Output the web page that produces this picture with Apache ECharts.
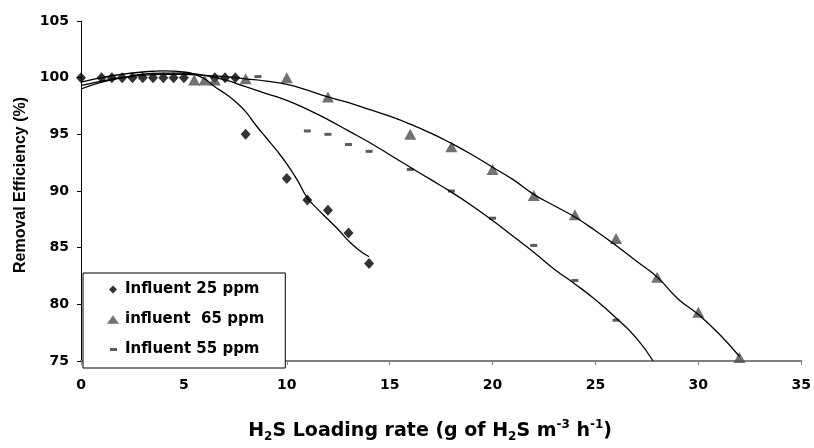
<!DOCTYPE html>
<html>
<head>
<meta charset="utf-8">
<script src="https://cdn.jsdelivr.net/npm/echarts@6/dist/echarts.min.js"></script>
<style>
  html, body { margin: 0; padding: 0; background: #fff; }
  #chart { width: 814px; height: 448px; }
</style>
</head>
<body>
<div id="chart"></div>
<script>
// measured points
var x25 = [0, 1, 1.5, 2, 2.5, 3, 3.5, 4, 4.5, 5, 6.5, 7, 7.5, 8, 10, 11, 12, 13, 14];
var y25 = [100, 100, 100, 100, 100, 100, 100, 100, 100, 100, 100, 100, 100, 95, 91.1, 89.2, 88.3, 86.3, 83.6];

var x65 = [5.5, 6, 6.5, 8, 10, 12, 16, 18, 20, 22, 24, 26, 28, 30, 32];
var y65 = [99.8, 99.8, 99.8, 99.9, 100, 98.3, 95, 93.9, 91.9, 89.6, 87.9, 85.8, 82.4, 79.3, 75.3];

var x55 = [8.6, 11, 12, 13, 14, 16, 18, 20, 22, 24, 26];
var y55 = [100.1, 95.3, 95.0, 94.1, 93.5, 91.9, 90.0, 87.6, 85.2, 82.1, 78.6];

// fitted curves
var fit25X = [0, 1, 2, 3, 4, 5, 5.5, 6, 6.5, 7, 7.5, 8, 8.5, 9, 9.5, 10, 10.5, 11, 11.5, 12, 12.5, 13, 13.5, 14];
var fit25Y = [99.6, 100.0, 100.3, 100.5, 100.6, 100.5, 100.3, 99.9, 99.2, 98.6, 97.9, 97.0, 95.8, 94.7, 93.6, 92.4, 91.0, 89.4, 88.4, 87.5, 86.6, 85.6, 84.8, 84.2];

var fit55X = [0, 1, 2, 3, 4, 5, 6, 7, 8, 9, 10, 11, 12, 13, 14, 15, 16, 17, 18, 19, 20, 21, 22, 23, 24, 25, 26, 27, 27.8];
var fit55Y = [99.0, 99.6, 100.0, 100.3, 100.4, 100.4, 100.2, 99.8, 99.2, 98.6, 98.0, 97.2, 96.3, 95.3, 94.3, 93.2, 92.1, 91.0, 89.9, 88.7, 87.4, 86.0, 84.6, 83.1, 81.8, 80.4, 78.8, 77.0, 75.0];

var fit65X = [0, 1, 2, 3, 4, 5, 6, 7, 8, 9, 10, 11, 12, 13, 14, 15, 16, 17, 18, 19, 20, 21, 22, 23, 24, 25, 26, 27, 28, 29, 30, 31, 32];
var fit65Y = [99.3, 99.7, 100.0, 100.2, 100.3, 100.3, 100.2, 100.1, 99.9, 99.7, 99.4, 98.9, 98.3, 97.8, 97.2, 96.6, 95.9, 95.1, 94.2, 93.2, 92.1, 91.0, 89.7, 88.7, 87.7, 86.5, 85.2, 83.8, 82.4, 80.5, 79.1, 77.4, 75.4];

var xTicks = [0, 5, 10, 15, 20, 25, 30, 35];
var yTicks = [75, 80, 85, 90, 95, 100, 105];

function pairs(xs, ys) {
    return xs.map(function (x, i) { return [x, ys[i]]; });
}

// the reference text is a wide bold sans, DejaVu fits its widths best
var wide = '"DejaVu Sans", sans-serif';
var font = 'Arial, "Liberation Sans", sans-serif';

var myChart = echarts.init(document.getElementById('chart'));
var option = {
    animation: false,
    backgroundColor: '#fff',
    grid: { left: 81, right: 11, top: 21, bottom: 80 },
    legend: {
        orient: 'vertical',
        left: 83,
        top: 273,
        padding: [9, 21, 11, 23],
        itemGap: 15,
        itemWidth: 14,
        itemHeight: 10,
        borderColor: '#000',
        borderWidth: 1,
        backgroundColor: '#fff',
        textStyle: { fontFamily: wide, fontWeight: 'bold', fontSize: 15, color: '#000' },
        data: [
            { name: 'Influent 25 ppm', icon: 'path://M0,0M14,10M7,1L11,5L7,9L3,5Z' },
            { name: 'influent  65 ppm', icon: 'path://M0,0M14,10M7,0.8L13,9.2L1,9.2Z' },
            { name: 'Influent 55 ppm', icon: 'path://M0,0M14,10M4,3.5H11V6.5H4Z' }
        ]
    },
    xAxis: {
        type: 'value',
        min: xTicks[0],
        max: xTicks[xTicks.length - 1],
        interval: 5,
        splitLine: { show: false },
        axisLine: { show: true, onZero: false, lineStyle: { color: '#808080', width: 2 } },
        axisTick: { show: true, length: 4, lineStyle: { color: '#808080' } },
        axisLabel: { margin: 17, color: '#000', fontFamily: wide, fontWeight: 'bold', fontSize: 14 },
        name: '{n|H}{sub|2}{n|S Loading rate (g of H}{sub|2}{n|S m}{sup|-3}{n| h}{sup|-1}{n|)}',
        nameLocation: 'middle',
        nameGap: 58,
        nameTextStyle: {
            padding: [0, 22, 0, 0],
            rich: {
                n: { fontFamily: wide, fontWeight: 'bold', fontSize: 19, color: '#000', lineHeight: 24 },
                sub: { fontFamily: wide, fontWeight: 'bold', fontSize: 12, color: '#000', lineHeight: 12, verticalAlign: 'bottom' },
                sup: { fontFamily: wide, fontWeight: 'bold', fontSize: 12, color: '#000', lineHeight: 12, verticalAlign: 'top' }
            }
        }
    },
    yAxis: {
        type: 'value',
        min: yTicks[0],
        max: yTicks[yTicks.length - 1],
        interval: 5,
        splitLine: { show: false },
        axisLine: { show: true, onZero: false, lineStyle: { color: '#000', width: 1 } },
        axisTick: { show: true, length: 4, lineStyle: { color: '#000' } },
        axisLabel: { margin: 12, color: '#000', fontFamily: wide, fontWeight: 'bold', fontSize: 14 },
        name: 'Removal Efficiency (%)',
        nameLocation: 'middle',
        nameGap: 52,
        nameTextStyle: { fontFamily: font, fontWeight: 'bold', fontSize: 16, color: '#000', padding: [0, 0, 0, 12] }
    },
    series: [
        {
            name: 'Influent 25 ppm',
            type: 'scatter',
            symbol: 'diamond',
            symbolSize: [10, 11],
            itemStyle: { color: '#000' },
            z: 2,
            data: pairs(x25, y25)
        },
        {
            name: 'influent  65 ppm',
            type: 'scatter',
            symbol: 'triangle',
            symbolSize: [12, 11],
            itemStyle: { color: '#4d4d4d' },
            z: 3,
            data: pairs(x65, y65)
        },
        {
            name: 'Influent 55 ppm',
            type: 'scatter',
            symbol: 'rect',
            symbolSize: [7, 3],
            itemStyle: { color: '#333' },
            z: 3,
            data: pairs(x55, y55)
        },
        {
            name: 'fit25',
            type: 'line',
            smooth: true,
            showSymbol: false,
            lineStyle: { color: '#000', width: 1.3 },
            z: 4,
            data: pairs(fit25X, fit25Y)
        },
        {
            name: 'fit55',
            type: 'line',
            smooth: true,
            showSymbol: false,
            lineStyle: { color: '#000', width: 1.3 },
            z: 4,
            data: pairs(fit55X, fit55Y)
        },
        {
            name: 'fit65',
            type: 'line',
            smooth: true,
            showSymbol: false,
            lineStyle: { color: '#000', width: 1.3 },
            z: 4,
            data: pairs(fit65X, fit65Y)
        }
    ]
};
myChart.setOption(option);
</script>
</body>
</html>
